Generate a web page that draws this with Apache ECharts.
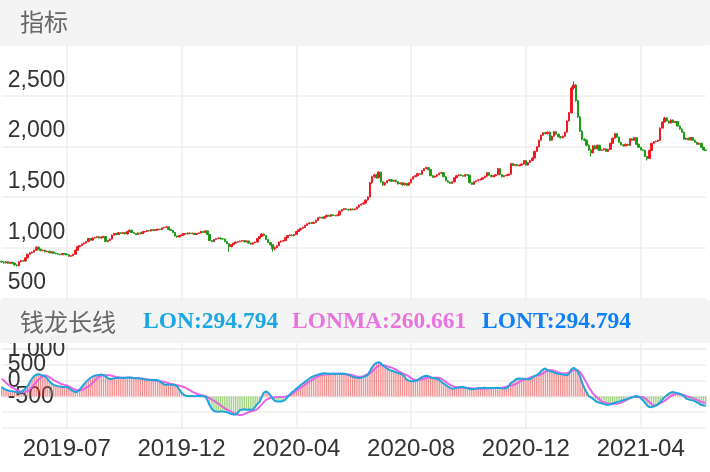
<!DOCTYPE html>
<html><head><meta charset="utf-8">
<script src="https://cdn.jsdelivr.net/npm/echarts@6/dist/echarts.min.js"></script>
<style>html,body{margin:0;padding:0;background:#fff}#c{width:710px;height:472px}</style>
</head><body><div id="c"></div><script>
const tickLabels = ['2019-07','2019-12','2020-04','2020-08','2020-12','2021-04'];
const tickStart = 30, tickStep = 53;

const opens = [865,858,850,862,845,855,848,830,822,860,872,
868,900,935,948,955,975,
1005,985,970,975,960,965,950,958,
945,940,935,930,942,938,930,915,920,
935,975,1010,1020,1035,1045,
1060,1090,1075,1095,1100,1108,1095,1105,
1110,1060,1070,
1085,1125,1140,1130,1148,1140,1150,1135,1160,
1172,1150,1140,1130,1145,1138,
1155,1160,1170,1165,1178,1170,1175,1182,
1178,1195,1200,1205,1180,1170,
1150,1115,1105,1120,
1125,1140,1135,1145,1138,1142,1130,1140,
1145,1160,1150,1165,1130,1070,
1060,1080,1090,1095,1088,1085,1060,
1040,
1010,1030,1045,1055,1060,1065,1070,1058,
1065,1045,1035,1048,1055,1090,1110,1135,
1120,1080,1050,1030,990,1000,
1020,1055,1065,1070,1100,1120,1125,1118,
1130,1160,1175,1190,1200,1220,1235,1245,1240,
1250,1270,1295,1300,1290,1305,1320,1310,1325,1318,1315,
1322,1360,1375,1385,1378,1372,1380,1375,
1382,1400,1420,1430,1440,1470,
1500,1640,1700,1720,1690,1745,1650,1620,
1640,1660,1670,1655,1665,1650,1630,1640,1620,1635,1615,
1640,1675,1700,1710,1730,1725,1760,1780,1790,
1770,1710,1695,1705,1720,1735,
1740,1700,1660,1645,1635,
1650,1690,1710,1718,1712,1705,1720,
1715,1640,1625,1650,1660,1670,1675,1690,1705,
1740,1715,1700,1710,1720,
1780,1720,1700,1710,1715,1725,
1830,1810,1820,1808,1815,1825,1860,
1815,1840,1860,1885,1950,1995,
2060,2110,2135,2125,2140,2060,2100,2145,
2120,2095,2085,2100,2140,2250,
2330,2575,2605,2450,2290,2150,
2070,2060,2010,1965,1935,2005,1975,2010,
1960,1965,1975,1950,1970,2030,2080,2125,
2090,2040,2015,2005,2020,2010,2075,2060,
2085,2020,1990,1965,1960,1900,
1880,1960,2030,2045,2050,2060,2180,2240,
2280,2250,2230,2260,2235,2245,2200,2170,
2140,2070,2080,2065,2085,2060,2040,2020,
2030,1990,1965];

const closes = [858,850,862,845,855,848,830,822,860,872,868,
900,935,948,955,975,1005,
985,970,975,960,965,950,958,945,
940,935,930,942,938,930,915,920,935,
975,1010,1020,1035,1045,1060,
1090,1075,1095,1100,1108,1095,1105,1110,
1060,1070,1085,
1125,1140,1130,1148,1140,1150,1135,1160,1172,
1150,1140,1130,1145,1138,1155,
1160,1170,1165,1178,1170,1175,1182,1178,
1195,1200,1205,1180,1170,1150,
1115,1105,1120,1125,
1140,1135,1145,1138,1142,1130,1140,1145,
1160,1150,1165,1130,1070,1060,
1080,1090,1095,1088,1085,1060,1040,
1010,
1030,1045,1055,1060,1065,1070,1058,1065,
1045,1035,1048,1055,1090,1110,1135,1120,
1080,1050,1030,990,1000,1020,
1055,1065,1070,1100,1120,1125,1118,1130,
1160,1175,1190,1200,1220,1235,1245,1240,1250,
1270,1295,1300,1290,1305,1320,1310,1325,1318,1315,1322,
1360,1375,1385,1378,1372,1380,1375,1382,
1400,1420,1430,1440,1470,1500,
1640,1700,1720,1690,1745,1650,1620,1640,
1660,1670,1655,1665,1650,1630,1640,1620,1635,1615,1640,
1675,1700,1710,1730,1725,1760,1780,1790,1770,
1710,1695,1705,1720,1735,1740,
1700,1660,1645,1635,1650,
1690,1710,1718,1712,1705,1720,1715,
1640,1625,1650,1660,1670,1675,1690,1705,1740,
1715,1700,1710,1720,1780,
1720,1700,1710,1715,1725,1830,
1810,1820,1808,1815,1825,1860,1815,
1840,1860,1885,1950,1995,2060,
2110,2135,2125,2140,2060,2100,2145,2120,
2095,2085,2100,2140,2250,2330,
2575,2605,2450,2290,2150,2070,
2060,2010,1965,1935,2005,1975,2010,1960,
1965,1975,1950,1970,2030,2080,2125,2090,
2040,2015,2005,2020,2010,2075,2060,2085,
2020,1990,1965,1960,1900,1880,
1960,2030,2045,2050,2060,2180,2240,2280,
2250,2230,2260,2235,2245,2200,2170,2140,
2070,2080,2065,2085,2060,2040,2020,2030,
1990,1965,1960];

const lows = [850,842,845,838,840,842,824,815,818,855,862,
865,896,930,942,950,970,
980,965,964,955,955,945,945,940,
934,930,925,926,932,925,908,910,916,
930,970,1004,1015,1030,1040,
1055,1070,1070,1090,1095,1090,1090,1100,
1055,1054,1065,
1080,1120,1125,1126,1135,1136,1130,1130,1155,
1145,1135,1125,1126,1132,1134,
1150,1155,1160,1160,1165,1166,1170,1172,
1174,1190,1195,1175,1165,1145,
1110,1098,1100,1115,
1120,1130,1130,1132,1134,1125,1126,1135,
1140,1145,1146,1125,1065,1054,
1055,1075,1085,1082,1080,1055,1035,
960,
1005,1025,1040,1050,1055,1060,1052,1054,
1040,1030,1030,1044,1050,1085,1105,1114,
1075,1045,1020,960,975,995,
1015,1050,1060,1065,1095,1115,1112,1114,
1125,1155,1170,1185,1195,1215,1230,1234,1235,
1245,1265,1290,1285,1285,1300,1305,1305,1312,1310,1310,
1318,1355,1370,1372,1366,1368,1370,1370,
1378,1395,1415,1425,1435,1465,
1495,1630,1690,1680,1685,1640,1610,1612,
1635,1655,1648,1650,1645,1622,1625,1612,1615,1608,1610,
1635,1670,1695,1705,1718,1720,1755,1775,1764,
1705,1690,1690,1700,1715,1730,
1695,1655,1640,1628,1630,
1645,1685,1705,1706,1700,1700,1710,
1635,1618,1620,1645,1655,1665,1670,1685,1700,
1710,1694,1695,1705,1715,
1715,1694,1695,1705,1710,1720,
1805,1805,1802,1803,1810,1820,1810,
1810,1835,1855,1880,1945,1990,
2055,2105,2118,2120,2050,2055,2095,2114,
2090,2078,2080,2095,2135,2245,
2325,2560,2440,2280,2140,2060,
2050,2000,1955,1900,1930,1968,1970,1952,
1955,1960,1944,1945,1965,2025,2075,2084,
2034,2010,2000,2000,2004,2005,2054,2055,
2014,1984,1960,1952,1895,1860,
1875,1955,2025,2040,2045,2055,2175,2235,
2245,2225,2225,2230,2230,2195,2165,2135,
2065,2065,2060,2060,2055,2035,2015,2015,
1985,1960,1955];

const highs = [872,866,868,866,860,860,852,836,866,878,878,
905,940,955,962,980,1012,
1010,990,980,980,970,970,962,962,
950,945,940,946,948,942,934,926,940,
980,1015,1026,1040,1050,1066,
1096,1095,1100,1106,1114,1112,1110,1116,
1114,1076,1090,
1130,1145,1145,1152,1152,1155,1154,1165,1178,
1176,1155,1145,1150,1150,1160,
1165,1175,1175,1182,1182,1180,1188,1186,
1200,1205,1210,1210,1185,1174,
1155,1120,1125,1130,
1145,1145,1150,1150,1147,1146,1145,1150,
1165,1165,1170,1168,1134,1076,
1085,1095,1100,1100,1094,1090,1065,
1045,
1035,1050,1060,1066,1070,1076,1075,1070,
1070,1050,1052,1060,1095,1115,1142,1140,
1124,1085,1055,1035,1010,1025,
1060,1070,1076,1105,1125,1130,1130,1135,
1165,1180,1195,1206,1225,1240,1250,1250,1256,
1275,1300,1306,1305,1310,1325,1325,1330,1330,1324,1328,
1365,1380,1390,1390,1384,1385,1386,1388,
1405,1425,1436,1446,1476,1506,
1650,1710,1730,1725,1755,1750,1655,1648,
1666,1676,1676,1670,1670,1655,1646,1645,1640,1640,1645,
1680,1706,1716,1736,1736,1766,1786,1800,1795,
1775,1715,1710,1725,1740,1746,
1745,1705,1665,1650,1655,
1695,1715,1724,1724,1716,1725,1726,
1720,1645,1655,1666,1676,1680,1696,1710,1746,
1745,1720,1716,1725,1786,
1785,1725,1716,1720,1730,1836,
1835,1826,1826,1820,1830,1866,1865,
1845,1866,1890,1956,2000,2066,
2116,2140,2142,2146,2145,2106,2152,2150,
2125,2100,2106,2146,2256,2340,
2590,2640,2615,2460,2300,2160,
2080,2070,2020,1975,2012,2012,2016,2015,
1972,1980,1980,1976,2036,2086,2130,2130,
2095,2045,2020,2026,2025,2080,2080,2090,
2090,2025,1995,1972,1965,1905,
1966,2036,2050,2056,2066,2186,2246,2290,
2285,2255,2266,2265,2250,2250,2205,2175,
2145,2086,2085,2090,2090,2065,2045,2036,
2035,1995,1970];

const lon = [300,240,210,185,170,160,150,130,118,140,
190,240,330,450,560,640,690,700,680,660,
640,560,480,420,360,340,320,310,300,300,
295,260,210,170,140,150,220,300,390,460,
530,590,630,655,670,680,690,680,630,580,
550,555,575,580,590,585,590,580,595,600,
590,580,570,580,570,560,540,530,520,530,
520,525,510,480,420,380,370,375,370,365,
360,320,220,120,60,20,15,10,12,8,
10,15,12,8,0,-120,-280,-400,-460,-480,
-485,-475,-480,-490,-500,-530,-560,-575,-570,-520,
-430,-420,-410,-420,-415,-425,-410,-330,-240,-180,
-20,120,160,120,40,-60,-140,-160,-165,-160,
-140,-100,-20,60,130,180,240,300,360,410,
460,510,560,610,640,665,690,710,725,730,
728,722,718,716,712,716,720,718,715,705,
680,650,620,600,590,585,590,610,640,680,
800,920,1010,1060,1080,1050,975,930,880,840,
810,790,765,740,725,690,620,530,500,480,
482,485,520,570,610,640,655,640,610,580,
570,560,520,460,410,360,310,270,245,250,
270,290,300,298,280,260,240,225,230,245,
260,265,268,270,268,265,262,265,268,270,
262,255,250,248,320,420,460,520,560,566,
560,555,548,545,550,590,640,675,720,800,
860,885,830,800,780,760,730,720,705,690,
680,673,720,860,905,860,780,640,420,260,
130,10,-30,-80,-140,-180,-200,-220,-245,-262,
-268,-255,-230,-200,-182,-165,-140,-120,-100,-78,
-50,-25,-5,10,0,-60,-125,-200,-290,-338,
-340,-320,-290,-250,-180,-100,-30,30,90,125,
140,120,100,85,50,0,-70,-95,-115,-125,
-150,-190,-230,-275,-290,-300];

const lonma = [560,500,430,370,320,280,240,200,170,145,
135,140,170,230,300,380,460,530,590,640,
660,650,610,560,515,480,445,410,385,365,
350,320,280,240,210,195,192,205,240,275,
300,360,430,500,570,620,650,665,672,673,
668,650,630,615,605,598,594,590,588,588,
588,586,582,575,568,560,550,540,530,518,
505,495,488,481,470,455,440,420,400,385,
370,355,340,320,300,270,230,190,150,115,
85,60,45,32,10,-20,-60,-100,-140,-180,
-230,-280,-330,-380,-420,-450,-490,-530,-560,-580,
-588,-585,-560,-530,-500,-475,-455,-440,-400,-330,
-260,-180,-110,-75,-50,-35,-30,-25,-22,-20,
-15,-5,10,32,80,130,180,230,270,320,
370,420,465,510,555,595,630,660,685,694,
700,705,710,714,716,716,716,714,710,703,
696,690,672,650,630,620,622,640,670,700,
726,780,850,920,965,990,993,975,950,930,
910,880,850,810,770,730,700,673,630,580,
540,515,513,525,545,565,580,588,592,594,
593,590,588,560,510,460,410,365,331,305,
290,280,272,270,268,267,262,255,250,248,
247,246,246,248,252,256,260,262,264,266,
267,275,290,310,330,345,353,380,420,460,
500,525,545,570,600,625,645,660,673,700,
740,780,815,833,830,815,790,760,740,726,
730,745,770,800,825,833,820,770,673,550,
420,300,190,85,20,-40,-100,-160,-185,-200,
-215,-225,-232,-236,-235,-220,-195,-165,-130,-95,
-60,-30,-21,-18,-18,-20,-21,-60,-120,-180,
-240,-288,-280,-250,-215,-182,-140,-90,-40,10,
50,75,85,80,60,35,11,-10,-30,-55,
-80,-110,-140,-175,-190,-200];

const panelTitles = ['指标', '钱龙长线'];
const legendNames = ['LON', 'LONMA', 'LONT'];
const legendValues = ['294.794', '260.661', '294.794'];

const C = {
  up: '#ec1c24', down: '#1e9a16',
  lon: '#1ea5dc', lonma: '#e464e4',
  legend: ['#1ba7e2', '#e874df', '#0f80f7'],
  grid: '#eeeeee', header: '#f4f4f4', text: '#333333', title: '#666666'
};
const sans = '"Liberation Sans", Arial, Helvetica, sans-serif';
const cats = closes.map((_, i) => String(i));
const candles = closes.map((c, i) => [opens[i], c, lows[i], highs[i]]);
const isTick = (i) => i >= tickStart && (i - tickStart) % tickStep === 0;

const splitLine = {show: true, lineStyle: {color: C.grid, width: 1.5}};
const yLabel = {inside: true, color: C.text, fontSize: 23, fontFamily: sans, align: 'left',
  verticalAlign: 'bottom', padding: [0, 0, 4, 0], margin: 6};

const chart = echarts.init(document.getElementById('c'), null, {renderer: 'canvas'});
chart.setOption({
  animation: false,
  backgroundColor: '#ffffff',
  grid: [
    {left: 1.7, right: 4.3, top: 45, height: 304, containLabel: false, outerBoundsMode: 'none'},
    {left: 1.7, right: 4.3, top: 349, height: 79, containLabel: false, outerBoundsMode: 'none'}
  ],
  xAxis: [
    {type: 'category', gridIndex: 0, data: cats, boundaryGap: false,
     axisLine: {show: false}, axisTick: {show: false}, axisLabel: {show: false},
     splitLine: Object.assign({interval: (i) => isTick(i)}, splitLine)},
    {type: 'category', gridIndex: 1, data: cats, boundaryGap: false,
     axisLine: {show: false}, axisTick: {show: false},
     axisLabel: {show: true, interval: (i) => isTick(i),
       formatter: (v, i) => tickLabels[(i - tickStart) / tickStep] || '',
       color: C.text, fontSize: 24, fontFamily: sans, margin: 9},
     splitLine: Object.assign({interval: (i) => isTick(i)}, splitLine)}
  ],
  yAxis: [
    {type: 'value', gridIndex: 0, min: 0, max: 3000, interval: 500,
     axisLine: {show: false}, axisTick: {show: false}, splitLine: splitLine,
     axisLabel: Object.assign({showMaxLabel: false, showMinLabel: false}, yLabel)},
    {type: 'value', gridIndex: 1, min: -1000, max: 1500, interval: 500,
     axisLine: {show: false}, axisTick: {show: false}, splitLine: splitLine,
     axisLabel: Object.assign({showMaxLabel: false, showMinLabel: false}, yLabel)}
  ],
  series: [
    {type: 'candlestick', xAxisIndex: 0, yAxisIndex: 0, data: candles, barWidth: '88%',
     itemStyle: {color: C.up, color0: C.down, borderColor: C.up, borderColor0: C.down, borderWidth: 1}},
    {type: 'bar', name: 'LONT', xAxisIndex: 1, yAxisIndex: 1, data: lon, barWidth: '65%',
     itemStyle: {color: (p) => p.value >= 0 ? 'rgba(238,72,72,0.6)' : 'rgba(100,182,50,0.6)'}},
    {type: 'line', name: 'LONMA', xAxisIndex: 1, yAxisIndex: 1, data: lonma, symbol: 'none',
     lineStyle: {color: C.lonma, width: 2}},
    {type: 'line', name: 'LON', xAxisIndex: 1, yAxisIndex: 1, data: lon, symbol: 'none',
     lineStyle: {color: C.lon, width: 2}}
  ],
  graphic: {elements: [
    {type: 'rect', z: 100, shape: {x: 0, y: 0, width: 710, height: 45}, style: {fill: C.header}},
    {type: 'rect', z: 100, shape: {x: 0, y: 300, width: 710, height: 43}, style: {fill: C.header}},
    {type: 'text', z: 101, x: 20, y: 22, style: {text: panelTitles[0], fill: C.title,
      font: '24px "Noto Sans CJK SC", sans-serif', verticalAlign: 'middle'}},
    {type: 'text', z: 101, x: 20, y: 322, style: {text: panelTitles[1], fill: C.title,
      font: '24px "Noto Sans CJK SC", sans-serif', verticalAlign: 'middle'}},
    {type: 'text', z: 101, x: 143, y: 322, style: {text: legendNames[0] + ':' + legendValues[0], fill: C.legend[0],
      font: 'bold 23.5px "Liberation Serif", "Times New Roman", serif', verticalAlign: 'middle'}},
    {type: 'text', z: 101, x: 292, y: 322, style: {text: legendNames[1] + ':' + legendValues[1], fill: C.legend[1],
      font: 'bold 23.5px "Liberation Serif", "Times New Roman", serif', verticalAlign: 'middle'}},
    {type: 'text', z: 101, x: 482, y: 322, style: {text: legendNames[2] + ':' + legendValues[2], fill: C.legend[2],
      font: 'bold 23.5px "Liberation Serif", "Times New Roman", serif', verticalAlign: 'middle'}}
  ]}
});
</script></body></html>
